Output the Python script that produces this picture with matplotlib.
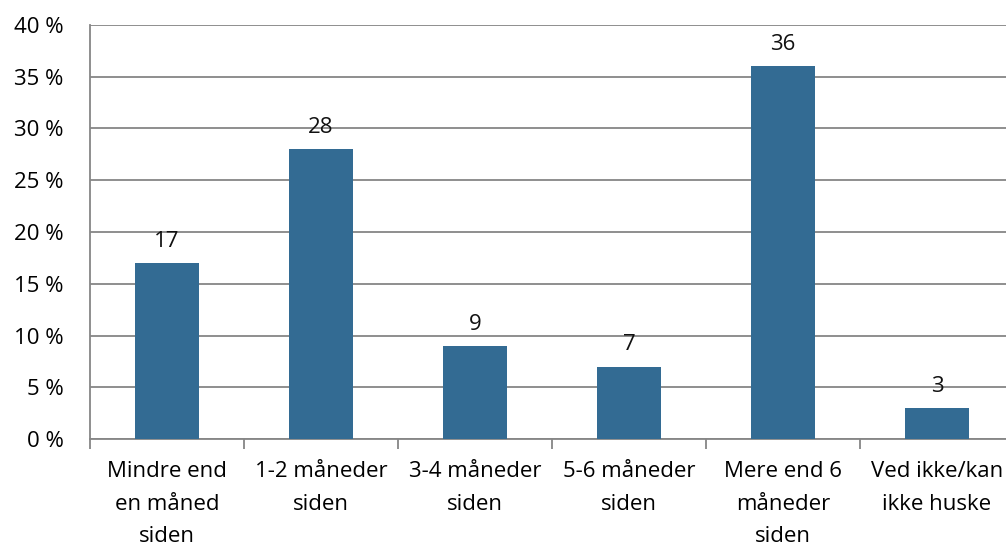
import matplotlib
matplotlib.use('Agg')
import matplotlib.pyplot as plt
import numpy as np

categories = ['Mindre end\nen måned\nsiden', '1-2 måneder\nsiden', '3-4 måneder\nsiden',
              '5-6 måneder\nsiden', 'Mere end 6\nmåneder\nsiden', 'Ved ikke/kan\nikke huske']
values = [17, 28, 9, 7, 36, 3]
yticks = [0, 5, 10, 15, 20, 25, 30, 35, 40]

plt.rcParams['font.family'] = ['Open Sans', 'DejaVu Sans']

fig = plt.figure(figsize=(10.06, 5.48), dpi=100)
ax = fig.add_axes([90 / 1006, 1 - 439 / 548, 924 / 1006, 414 / 548])

x = np.arange(len(categories))
bars = ax.bar(x, values, width=0.41, color='#336b93', zorder=3)

for b, v in zip(bars, values):
    ax.annotate(str(v), (b.get_x() + b.get_width() / 2, v), xytext=(0, 8),
                textcoords='offset points', ha='center', va='bottom',
                fontsize=16, color='#111111')

ax.set_xlim(-0.5, len(categories) - 0.5)
ax.set_ylim(0, 40)
ax.set_yticks(yticks)
ax.set_yticklabels(['%d %%' % t for t in yticks], fontsize=16)
ax.tick_params(axis='y', length=0, pad=19)
ax.yaxis.grid(True, color='#868686', linewidth=1.3, zorder=0)

ax.set_xticks(x)
ax.set_xticklabels(categories, fontsize=16, linespacing=1.72)
ax.tick_params(axis='x', which='major', length=0, pad=16)
ax.set_xticks(np.arange(len(categories)) - 0.5, minor=True)
ax.tick_params(axis='x', which='minor', length=7, color='#868686', width=1.3)

for s in ['top', 'right']:
    ax.spines[s].set_visible(False)
for s in ['left', 'bottom']:
    ax.spines[s].set_color('#868686')
    ax.spines[s].set_linewidth(1.3)

fig.savefig('out.png', dpi=100)
